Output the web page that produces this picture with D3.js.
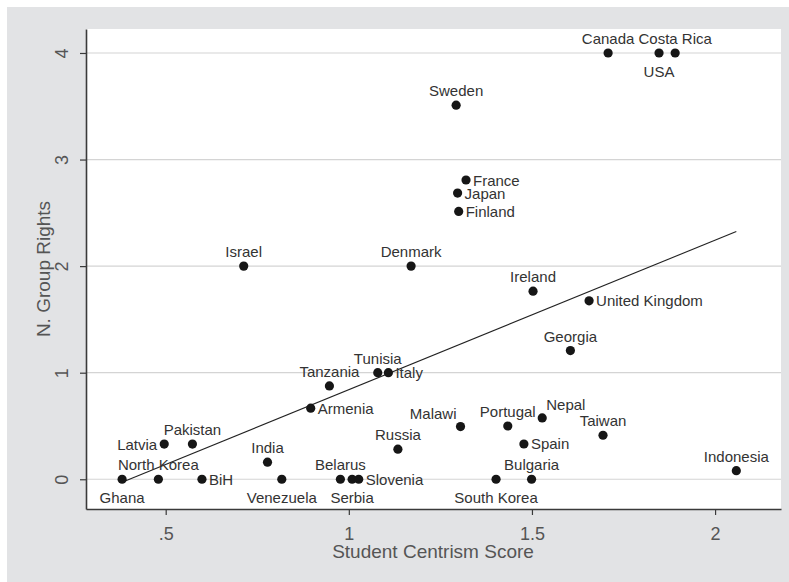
<!DOCTYPE html>
<html>
<head>
<meta charset="utf-8">
<script src="https://cdn.jsdelivr.net/npm/d3@7"></script>
<style>
  body { margin: 0; background: #fff; }
  text { font-family: "Liberation Sans", Arial, sans-serif; }
</style>
</head>
<body>
<script>
// countries, scores, number of group rights
const countries = ['Ghana','North Korea','BiH','Latvia','Pakistan','India','Venezuela','Belarus','Serbia','Slovenia',
  'Armenia','Tanzania','Tunisia','Italy','Russia','Malawi','Portugal','Nepal','Spain','Taiwan','Indonesia',
  'South Korea','Bulgaria','Georgia','United Kingdom','Ireland','Denmark','Israel','Finland','Japan','France',
  'Sweden','Canada','USA','Costa Rica'];
const centrism = [0.381,0.48,0.599,0.496,0.573,0.778,0.817,0.977,1.009,1.027,
  0.896,0.947,1.079,1.108,1.134,1.305,1.434,1.528,1.478,1.694,2.058,
  1.402,1.499,1.605,1.656,1.503,1.17,0.713,1.30,1.297,1.32,
  1.293,1.708,1.847,1.891];
const groupRights = [0,0,0,0.33,0.33,0.16,0,0,0,0,
  0.667,0.876,1,1,0.282,0.494,0.5,0.576,0.331,0.413,0.081,
  0,0,1.208,1.674,1.765,2,2,2.513,2.685,2.808,
  3.51,4,4,4];
// label position as a clock direction (like Stata's mlabvposition)
const labelClock = [6,12,3,9,12,12,6,12,6,3,
  3,12,12,3,12,10,12,1,3,12,12,
  6,12,12,3,12,12,12,3,3,3,
  12,12,6,12];
// linear fit, end points
const fitX = [0.381, 2.058];
const fitY = [-0.028, 2.325];
const xTicks = [0.5, 1, 1.5, 2];
const xTickLabels = ['.5','1','1.5','2'];
const yTicks = [0, 1, 2, 3, 4];

const W = 789, H = 582;
const plot = {left: 86, right: 781, top: 29, bottom: 509};

const svg = d3.select('body').append('svg').attr('width', W).attr('height', H);

// graph region
svg.append('rect').attr('x', 7).attr('y', 7).attr('width', W - 7).attr('height', H - 7).attr('fill', '#e2e3e5');
svg.append('rect').attr('x', plot.left).attr('y', plot.top)
  .attr('width', plot.right - plot.left).attr('height', plot.bottom - plot.top).attr('fill', '#fff');

const x = d3.scaleLinear().domain([0.2824, 2.180]).range([plot.left, plot.right]);
const y = d3.scaleLinear().domain([-0.279, 4.225]).range([plot.bottom, plot.top]);

// gridlines
svg.append('g').selectAll('line').data(yTicks).enter().append('line')
  .attr('x1', plot.left).attr('x2', plot.right)
  .attr('y1', d => y(d)).attr('y2', d => y(d))
  .attr('stroke', '#d4d4d4').attr('stroke-width', 1.2);

// x axis
const xAxis = d3.axisBottom(x).tickValues(xTicks).tickFormat((d, i) => xTickLabels[i]).tickSize(6).tickPadding(12).tickSizeOuter(0);
const xAxisG = svg.append('g').attr('transform', `translate(0,${plot.bottom})`).call(xAxis);
xAxisG.select('.domain').attr('stroke', '#3a3a3a').attr('stroke-width', 1.6);
xAxisG.selectAll('.tick line').attr('stroke', '#3a3a3a').attr('stroke-width', 1.2);
xAxisG.selectAll('.tick text').attr('font-size', 18).attr('fill', '#555').attr('font-family', '"Liberation Sans", Arial, sans-serif');

// y axis
const yAxis = d3.axisLeft(y).tickValues(yTicks).tickFormat(d3.format('d')).tickSize(6).tickSizeOuter(0);
const yAxisG = svg.append('g').attr('transform', `translate(${plot.left},0)`).call(yAxis);
yAxisG.select('.domain').attr('stroke', '#3a3a3a').attr('stroke-width', 1.6);
yAxisG.selectAll('.tick line').attr('stroke', '#3a3a3a').attr('stroke-width', 1.2);
yAxisG.selectAll('.tick text')
  .attr('font-size', 18).attr('fill', '#555').attr('font-family', '"Liberation Sans", Arial, sans-serif')
  .attr('x', null).attr('dy', null)
  .attr('text-anchor', 'middle')
  .attr('transform', 'translate(-18,0) rotate(-90)');

// axis titles
svg.append('text').text('Student Centrism Score')
  .attr('x', (plot.left + plot.right) / 2 - 0.5).attr('y', 558)
  .attr('text-anchor', 'middle').attr('font-size', 19).attr('fill', '#555');
svg.append('text').text('N. Group Rights')
  .attr('transform', `translate(50,${(plot.top + plot.bottom) / 2}) rotate(-90)`)
  .attr('text-anchor', 'middle').attr('font-size', 19).attr('fill', '#555');

// fit line
svg.append('path')
  .datum(fitX.map((d, i) => [d, fitY[i]]))
  .attr('d', d3.line().x(d => x(d[0])).y(d => y(d[1])))
  .attr('fill', 'none').attr('stroke', '#222').attr('stroke-width', 1.1);

const pts = countries.map((c, i) => ({name: c, cx: centrism[i], gr: groupRights[i], pos: labelClock[i]}));

// markers
svg.append('g').selectAll('circle').data(pts).enter().append('circle')
  .attr('cx', d => x(d.cx)).attr('cy', d => y(d.gr)).attr('r', 4.6).attr('fill', '#161616');

// marker labels
const place = {
  12: {dx: 0, dy: -9, anchor: 'middle'},
  6: {dx: 0, dy: 24, anchor: 'middle'},
  3: {dx: 7, dy: 5.5, anchor: 'start'},
  9: {dx: -7, dy: 5.5, anchor: 'end'},
  10: {dx: -4, dy: -8, anchor: 'end'},
  1: {dx: 4, dy: -8, anchor: 'start'}
};
svg.append('g').selectAll('text').data(pts).enter().append('text')
  .text(d => d.name)
  .attr('x', d => x(d.cx) + place[d.pos].dx)
  .attr('y', d => y(d.gr) + place[d.pos].dy)
  .attr('text-anchor', d => place[d.pos].anchor)
  .attr('font-size', 15).attr('fill', '#333');
</script>
</body>
</html>
